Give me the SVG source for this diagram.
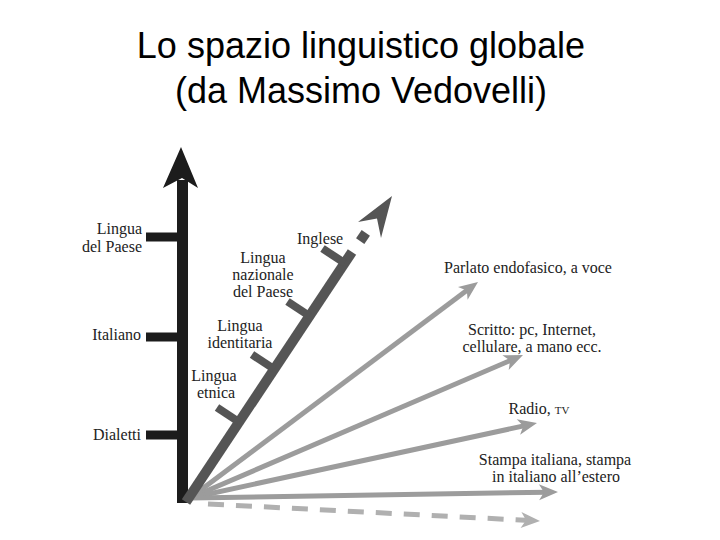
<svg xmlns="http://www.w3.org/2000/svg" width="720" height="540" viewBox="0 0 720 540">
<style>
.title{font-family:"Liberation Sans","DejaVu Sans",sans-serif;font-size:36px;fill:#000;text-anchor:middle}
.lbl{font-family:"Liberation Serif","DejaVu Serif",serif;font-size:16px;fill:#222}
.r{text-anchor:end}
.m{text-anchor:middle}
.fan{stroke:#9c9c9c;stroke-width:5;fill:none;marker-end:url(#ah)}
.tick{stroke:#1c1c1c;stroke-width:9}
.dtick{stroke:#555;stroke-width:8}
</style>
<defs>
<marker id="ah" markerUnits="userSpaceOnUse" viewBox="-12 -9 24 18" markerWidth="24" markerHeight="18" refX="0" refY="0" orient="auto">
<path d="M10,0 L-9,-8 L-4,0 L-9,8 Z" fill="#9c9c9c"/>
</marker>
<marker id="ahd" markerUnits="userSpaceOnUse" viewBox="-12 -9 24 18" markerWidth="24" markerHeight="18" refX="0" refY="0" orient="auto">
<path d="M10,0 L-9,-8 L-4,0 L-9,8 Z" fill="#b0b0b0"/>
</marker>
</defs>
<rect width="720" height="540" fill="#fff"/>
<g id="title">
<text class="title" x="361" y="58">Lo spazio linguistico globale</text>
<text class="title" x="361" y="103">(da Massimo Vedovelli)</text>
</g>
<g id="connectors">
<line class="fan" x1="190" y1="498" x2="470" y2="288"/>
<line class="fan" x1="190" y1="498" x2="513.8" y2="359"/>
<line class="fan" x1="190" y1="498" x2="527.2" y2="425.1"/>
<line class="fan" x1="190" y1="498" x2="548" y2="492.2"/>
<line x1="208" y1="504" x2="530" y2="520.5" stroke="#b0b0b0" stroke-width="5" stroke-dasharray="16 12" marker-end="url(#ahd)"/>
</g>
<g id="vertical-axis">
<rect x="177" y="180" width="11" height="323" fill="#1c1c1c"/>
<path d="M181,147 L198,188 L182,178 L163,188 Z" fill="#1c1c1c"/>
<line class="tick" x1="146" y1="237" x2="180" y2="237"/>
<line class="tick" x1="146" y1="337" x2="180" y2="337"/>
<line class="tick" x1="146" y1="435" x2="180" y2="435"/>
</g>
<g id="diagonal-axis">
<line x1="186" y1="502" x2="352" y2="252" stroke="#555" stroke-width="10"/>
<rect x="358" y="232" width="10" height="10" fill="#555" transform="rotate(-56 363 237)"/>
<path d="M392,196 L381,238 L377,218.5 L358,222 Z" fill="#555"/>
<line class="dtick" x1="239" y1="422" x2="217" y2="407.5"/>
<line class="dtick" x1="274" y1="369" x2="252" y2="354.5"/>
<line class="dtick" x1="309.5" y1="316" x2="287.5" y2="301.5"/>
<line class="dtick" x1="344.5" y1="263" x2="322.5" y2="248.5"/>
</g>
<g id="left-labels">
<text class="lbl r" x="142" y="234">Lingua</text>
<text class="lbl r" x="142" y="252">del Paese</text>
<text class="lbl r" x="141" y="340">Italiano</text>
<text class="lbl r" x="141" y="440">Dialetti</text>
</g>
<g id="diagonal-labels">
<text class="lbl" x="297" y="244">Inglese</text>
<text class="lbl m" x="263" y="263">Lingua</text>
<text class="lbl m" x="263" y="280">nazionale</text>
<text class="lbl m" x="263" y="297">del Paese</text>
<text class="lbl m" x="240" y="331">Lingua</text>
<text class="lbl m" x="240" y="348">identitaria</text>
<text class="lbl m" x="214" y="381">Lingua</text>
<text class="lbl m" x="216" y="398">etnica</text>
</g>
<g id="right-labels">
<text class="lbl m" x="528" y="273">Parlato endofasico, a voce</text>
<text class="lbl m" x="532" y="335">Scritto: pc, Internet,</text>
<text class="lbl m" x="532" y="352">cellulare, a mano ecc.</text>
<text class="lbl m" x="539" y="414">Radio, <tspan font-size="11">TV</tspan></text>
<text class="lbl m" x="555" y="465">Stampa italiana, stampa</text>
<text class="lbl m" x="556" y="482">in italiano all’estero</text>
</g>
</svg>
